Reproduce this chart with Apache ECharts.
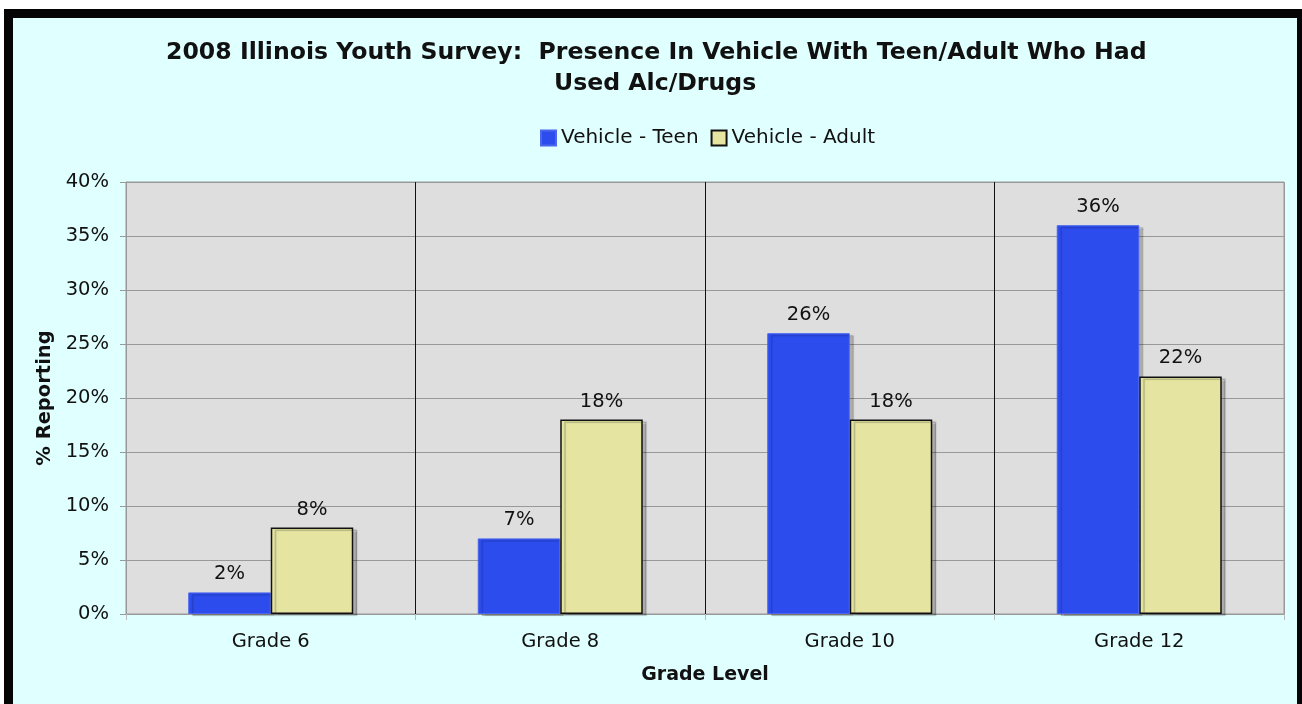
<!DOCTYPE html>
<html><head><meta charset="utf-8">
<script src="https://cdn.jsdelivr.net/npm/echarts@6/dist/echarts.min.js"></script>
<style>
html,body{margin:0;padding:0;background:#fff;width:1302px;height:704px;overflow:hidden;}
#frame{position:absolute;left:4px;top:9px;width:1284px;height:700px;border:9px solid #050505;border-right-width:5px;background:#e0ffff;}
#chart{position:absolute;left:0;top:0;width:1302px;height:704px;}
</style></head>
<body>
<div id="frame"></div>
<div id="chart"></div>
<script>
const categories = ['Grade 6', 'Grade 8', 'Grade 10', 'Grade 12'];
const teenValues = [2, 7, 26, 36];
const adultValues = [8, 18, 18, 22];
const seriesNames = ['Vehicle - Teen', 'Vehicle - Adult'];
const titleLines = ['2008 Illinois Youth Survey:  Presence In Vehicle With Teen/Adult Who Had', 'Used Alc/Drugs'];

const chart = echarts.init(document.getElementById('chart'), null, {renderer: 'canvas'});
const font = 'DejaVu Sans, Verdana, sans-serif';
const fs = 19.5;
const titleStyle = {fontFamily: font, fontSize: 23.6, fontWeight: 'bold', color: '#111'};
const shadow = {shadowColor: 'rgba(0,0,0,0.22)', shadowOffsetX: 4, shadowOffsetY: 2, shadowBlur: 1};
chart.setOption({
  backgroundColor: 'transparent',
  animation: false,
  title: [
    {text: titleLines[0], left: 166, top: 41, padding: 0, textStyle: titleStyle},
    {text: titleLines[1], left: 554, top: 72, padding: 0, textStyle: titleStyle}
  ],
  legend: {
    data: seriesNames, top: 128, left: 540, itemWidth: 15, itemHeight: 15, itemGap: 12,
    icon: 'rect', padding: 0,
    textStyle: {fontFamily: font, fontSize: 20, color: '#111'}
  },
  grid: {left: 126, top: 182, width: 1158, height: 432, show: true, backgroundColor: '#dedede', borderColor: '#999', borderWidth: 1, containLabel: false},
  xAxis: {
    type: 'category', data: categories, boundaryGap: true,
    name: 'Grade Level', nameLocation: 'middle', nameGap: 52,
    nameTextStyle: {fontFamily: font, fontSize: 19, fontWeight: 'bold', color: '#111'},
    axisLine: {lineStyle: {color: '#999'}},
    axisTick: {show: true, length: 6, lineStyle: {color: '#bbb'}},
    axisLabel: {fontFamily: font, fontSize: fs, color: '#111', margin: 18},
    splitLine: {show: true, lineStyle: {color: ['#999', '#111', '#111', '#111', '#999'], width: 1}}
  },
  yAxis: {
    type: 'value', min: 0, max: 40, interval: 5,
    name: '% Reporting', nameLocation: 'middle', nameGap: 71,
    nameTextStyle: {fontFamily: font, fontSize: fs, fontWeight: 'bold', color: '#111'},
    axisLine: {show: true, lineStyle: {color: '#999'}},
    axisTick: {show: true, length: 6, lineStyle: {color: '#999'}},
    axisLabel: {fontFamily: font, fontSize: fs, color: '#111', margin: 17, formatter: '{value}%'},
    splitLine: {show: true, lineStyle: {color: '#999', width: 1}}
  },
  series: [
    {
      name: seriesNames[0], type: 'bar', data: teenValues, barGap: '0%', barCategoryGap: '43%',
      itemStyle: Object.assign({color: '#2c4ced', borderColor: '#4a66ee', borderWidth: 1}, shadow),
      label: {show: true, position: 'top', distance: 8, formatter: '{c}%', fontFamily: font, fontSize: fs, color: '#111'}
    },
    {
      name: seriesNames[1], type: 'bar', data: adultValues,
      itemStyle: Object.assign({color: '#e5e5a1', borderColor: '#111', borderWidth: 1.5}, shadow),
      label: {show: true, position: 'top', distance: 8, formatter: '{c}%', fontFamily: font, fontSize: fs, color: '#111'}
    }
  ]
});
</script>
</body></html>
